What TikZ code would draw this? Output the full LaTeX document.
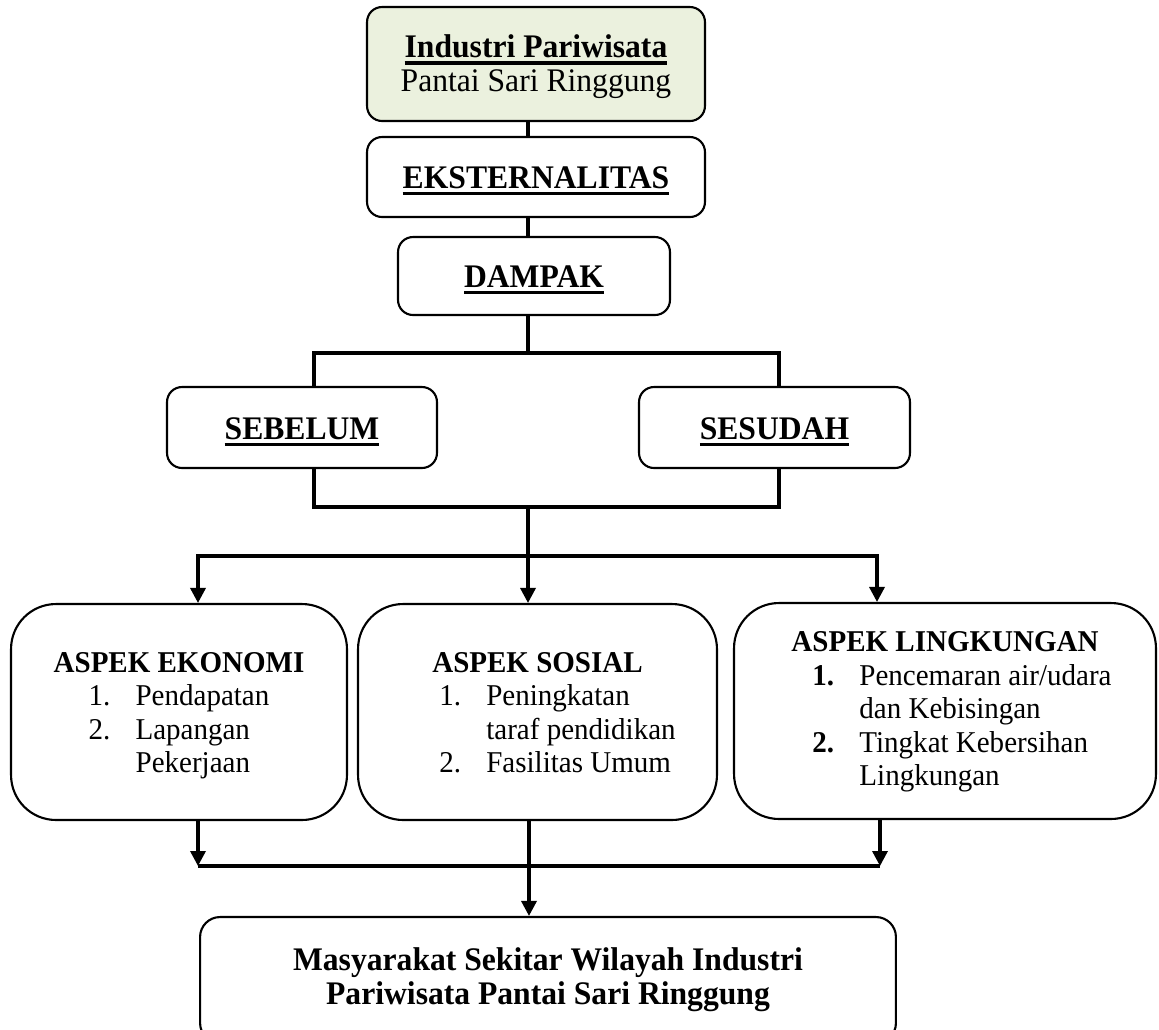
\documentclass[tikz,border=0pt]{standalone}
\usepackage{fontspec}
\setmainfont{Liberation Serif}[FakeStretch=0.96]
\usetikzlibrary{arrows.meta}
\definecolor{hijau}{HTML}{EBF1DE}
\newcommand{\garis}[1]{\setbox0\hbox{#1}\rlap{\rule[-0.2em]{\wd0}{0.095em}}\box0}

\begin{document}
\begin{tikzpicture}[x=0.02cm,y=-0.02cm,
    kotak/.style={draw,line width=1.2pt,rounded corners=0.3cm,align=center,inner sep=0pt,font=\fontsize{18.75}{19}\selectfont},
    judul/.style={kotak,text height=13.4pt,text depth=0pt},
    aspek/.style={draw,line width=1.2pt,rounded corners=0.9cm,align=center,inner sep=0pt,minimum height=4.32cm,font=\fontsize{17.2}{19}\selectfont},
    garisp/.style={line width=1.9pt},
    panah/.style={line width=1.9pt,-{Triangle[length=0.3cm,width=0.3cm]}}]
    \useasboundingbox (0,0) rectangle (1159,1029);
    \node[kotak,fill=hijau,minimum width=6.76cm,minimum height=2.28cm] (industri) at (536,64) {\rule{0pt}{16.2pt}\garis{\textbf{Industri Pariwisata}}\\Pantai Sari Ringgung};
    \node[judul,minimum width=6.76cm,minimum height=1.6cm] (eksternalitas) at (536,177) {\garis{\textbf{EKSTERNALITAS}}};
    \node[judul,minimum width=5.44cm,minimum height=1.56cm] (dampak) at (534,276) {\garis{\textbf{DAMPAK}}};
    \node[judul,minimum width=5.4cm,minimum height=1.62cm] (sebelum) at (302,427.5) {\garis{\textbf{SEBELUM}}};
    \node[judul,minimum width=5.42cm,minimum height=1.62cm] (sesudah) at (774.5,427.5) {\garis{\textbf{SESUDAH}}};
    \node[aspek,minimum width=6.72cm] (ekonomi) at (179,712) {\rule{0pt}{17.6pt}\textbf{ASPEK EKONOMI}\\
        \begin{tabular}[t]{@{}p{0.94cm}@{}l@{}}
        1. & Pendapatan\\
        2. & Lapangan\\
           & Pekerjaan
        \end{tabular}};
    \node[aspek,minimum width=7.18cm] (sosial) at (537.5,712) {\rule{0pt}{17.6pt}\textbf{ASPEK SOSIAL}\\
        \hspace*{0.8cm}\begin{tabular}[t]{@{}p{0.94cm}@{}l@{}}
        1. & Peningkatan\\
           & taraf pendidikan\\
        2. & Fasilitas Umum
        \end{tabular}};
    \node[aspek,minimum width=8.44cm] (lingkungan) at (945,711) {\rule{0pt}{14.5pt}\textbf{ASPEK LINGKUNGAN}\\
        \hspace*{0.68cm}\begin{tabular}[t]{@{}p{0.94cm}@{}l@{}}
        \textbf{1.} & Pencemaran air/udara\\
           & dan Kebisingan\\
        \textbf{2.} & Tingkat Kebersihan\\
           & Lingkungan
        \end{tabular}};
    \node[kotak,rounded corners=0.4cm,minimum width=13.92cm,minimum height=2.52cm,font=\fontsize{18.75}{19.5}\selectfont] (masyarakat) at (548,980) {\textbf{Masyarakat Sekitar Wilayah Industri}\\\textbf{Pariwisata Pantai Sari Ringgung}};
    \coordinate (poros) at (528,0);
    \coordinate (kiri) at (314,0);
    \coordinate (kanan) at (779,0);
    \coordinate (cabang) at (528,353);
    \coordinate (gabung) at (528,507);
    \coordinate (bagi) at (528,556);
    \coordinate (ekomasuk) at (198,556);
    \coordinate (lingmasuk) at (877,556);
    \coordinate (ekokeluar) at (198,866);
    \coordinate (lingkeluar) at (880,866);
    \coordinate (kumpul) at (529,866);
    \draw[garisp] (industri.south -| poros) -- (eksternalitas.north -| poros);
    \draw[garisp] (eksternalitas.south -| poros) -- (dampak.north -| poros);
    \draw[garisp] (dampak.south -| cabang) -- (cabang);
    \draw[garisp] (sebelum.north -| kiri) |- (cabang) -| (sesudah.north -| kanan);
    \draw[garisp] (sebelum.south -| kiri) |- (gabung) -| (sesudah.south -| kanan);
    \draw[panah] (gabung) -- (sosial.north -| gabung);
    \draw[panah] (bagi) -| (ekonomi.north -| ekomasuk);
    \draw[panah] (bagi) -| (lingkungan.north -| lingmasuk);
    \draw[panah] (ekonomi.south -| ekokeluar) -- (ekokeluar);
    \draw[panah] (lingkungan.south -| lingkeluar) -- (lingkeluar);
    \draw[garisp] (ekokeluar) -- (lingkeluar);
    \draw[panah] (sosial.south -| kumpul) -- (masyarakat.north -| kumpul);
\end{tikzpicture}
\end{document}
